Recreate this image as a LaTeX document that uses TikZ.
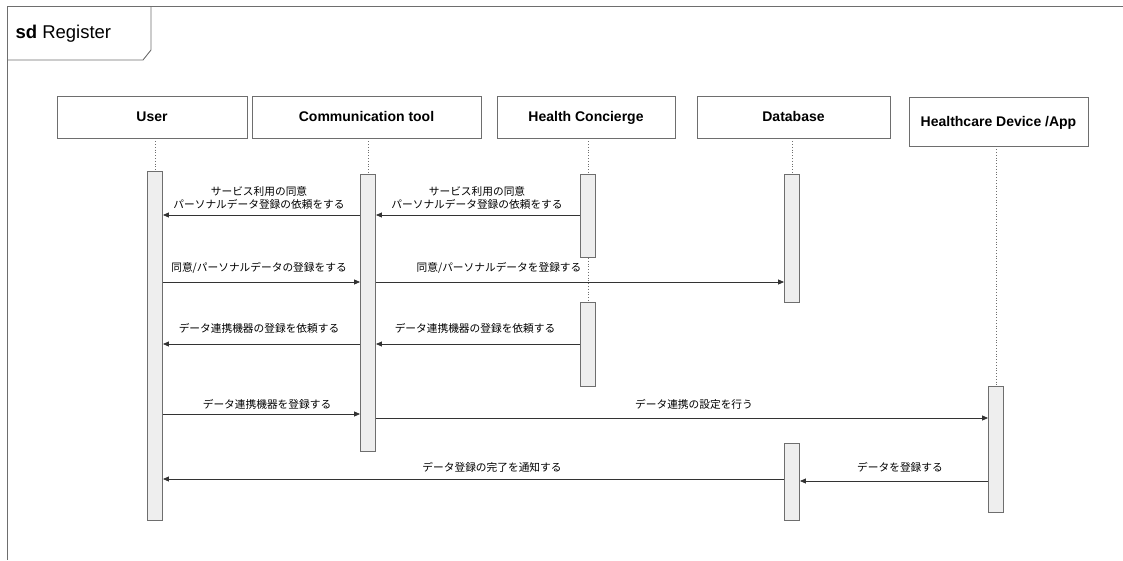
\documentclass[tikz,border=0pt]{standalone}
\usepackage{fontspec}
\usepackage{xcolor}
\usepackage{tikz}
\usetikzlibrary{arrows.meta}
\setmainfont{Liberation Sans}
\newfontfamily\jpfont{Noto Sans CJK JP}
\definecolor{barfill}{HTML}{EEEEEE}
\definecolor{edgegray}{HTML}{6E6E6E}
\definecolor{msgline}{HTML}{333333}

\begin{document}
\begin{tikzpicture}[x=1pt,y=-1pt,
	actor/.style={draw=edgegray, line width=0.9pt, fill=white, font=\fontsize{14}{16}\selectfont\bfseries, inner sep=0pt, text height=11pt, text depth=2pt},
	bar/.style={draw=edgegray, line width=0.9pt, fill=barfill, minimum width=15pt, anchor=north, inner sep=0pt},
	lifeline/.style={draw=edgegray, dotted, line width=0.8pt},
	msg/.style={draw=msgline, line width=0.8pt, -{Triangle[length=6pt,width=5pt]}},
	msgtext/.style={font=\jpfont\fontsize{10.7}{13}\selectfont, align=center, inner sep=0pt}]
	\useasboundingbox (0,0) rectangle (1123,560);
	% frame
	\draw[edgegray, line width=0.9pt] (7,6) -- (1123,6) (7,6) -- (7,560);
	\draw[edgegray, line width=0.9pt] (7,60) -- (143,60) -- (151,50) -- (151,6);
	\node[anchor=west, font=\fontsize{18.5}{21}\selectfont] at (12,34) (title){\textbf{sd} Register};
	% participants
	\node[actor, minimum width=190pt, minimum height=42pt] at (152,117) (user){User};
	\node[actor, minimum width=229pt, minimum height=42pt] at (366.5,117) (comm){Communication tool};
	\node[actor, minimum width=178pt, minimum height=42pt] at (586,117) (conc){Health Concierge};
	\node[actor, minimum width=193pt, minimum height=42pt] at (793.5,117) (db){Database};
	\node[actor, minimum width=179pt, minimum height=49pt] at (998.5,121.5) (dev){Healthcare Device /App};
	% activation bars
	\node[bar, minimum height=349pt] at (155,171) (ubar){};
	\node[bar, minimum height=277pt] at (368,174) (cbar){};
	\node[bar, minimum height=83pt] at (588,174) (hbarA){};
	\node[bar, minimum height=84pt] at (588,302) (hbarB){};
	\node[bar, minimum height=128pt] at (792,174) (dbarA){};
	\node[bar, minimum height=77pt] at (792,443) (dbarB){};
	\node[bar, minimum height=126pt] at (996,386) (abar){};
	% lifelines
	\draw[lifeline] (ubar.north |- user.south) -- (ubar.north);
	\draw[lifeline] (cbar.north |- comm.south) -- (cbar.north);
	\draw[lifeline] (hbarA.north |- conc.south) -- (hbarA.north);
	\draw[lifeline] (hbarA.south) -- (hbarB.north);
	\draw[lifeline] (dbarA.north |- db.south) -- (dbarA.north);
	\draw[lifeline] (abar.north |- dev.south) -- (abar.north);
	% message heights
	\coordinate (m1) at (0,215);
	\coordinate (m2) at (0,282);
	\coordinate (m3) at (0,344);
	\coordinate (m4) at (0,414);
	\coordinate (m5) at (0,418);
	\coordinate (m6) at (0,481);
	\coordinate (m7) at (0,479);
	% messages
	\draw[msg] (hbarA.west |- m1) -- (cbar.east |- m1);
	\node[msgtext] at (477,197.5) (t1){サービス利用の同意\\パーソナルデータ登録の依頼をする};
	\draw[msg] (cbar.west |- m1) -- (ubar.east |- m1);
	\node[msgtext] at (259,197.5) (t2){サービス利用の同意\\パーソナルデータ登録の依頼をする};
	\draw[msg] (ubar.east |- m2) -- (cbar.west |- m2);
	\node[msgtext] at (259,268) (t3){同意/パーソナルデータの登録をする};
	\draw[msg] (cbar.east |- m2) -- (dbarA.west |- m2);
	\node[msgtext] at (499,268) (t4){同意/パーソナルデータを登録する};
	\draw[msg] (hbarB.west |- m3) -- (cbar.east |- m3);
	\node[msgtext] at (475,328) (t5){データ連携機器の登録を依頼する};
	\draw[msg] (cbar.west |- m3) -- (ubar.east |- m3);
	\node[msgtext] at (259,328) (t6){データ連携機器の登録を依頼する};
	\draw[msg] (ubar.east |- m4) -- (cbar.west |- m4);
	\node[msgtext] at (267,404) (t7){データ連携機器を登録する};
	\draw[msg] (cbar.east |- m5) -- (abar.west |- m5);
	\node[msgtext] at (694,404) (t8){データ連携の設定を行う};
	\draw[msg] (abar.west |- m6) -- (dbarB.east |- m6);
	\node[msgtext] at (900,467) (t9){データを登録する};
	\draw[msg] (dbarB.west |- m7) -- (ubar.east |- m7);
	\node[msgtext] at (492,467) (t10){データ登録の完了を通知する};
\end{tikzpicture}
\end{document}
